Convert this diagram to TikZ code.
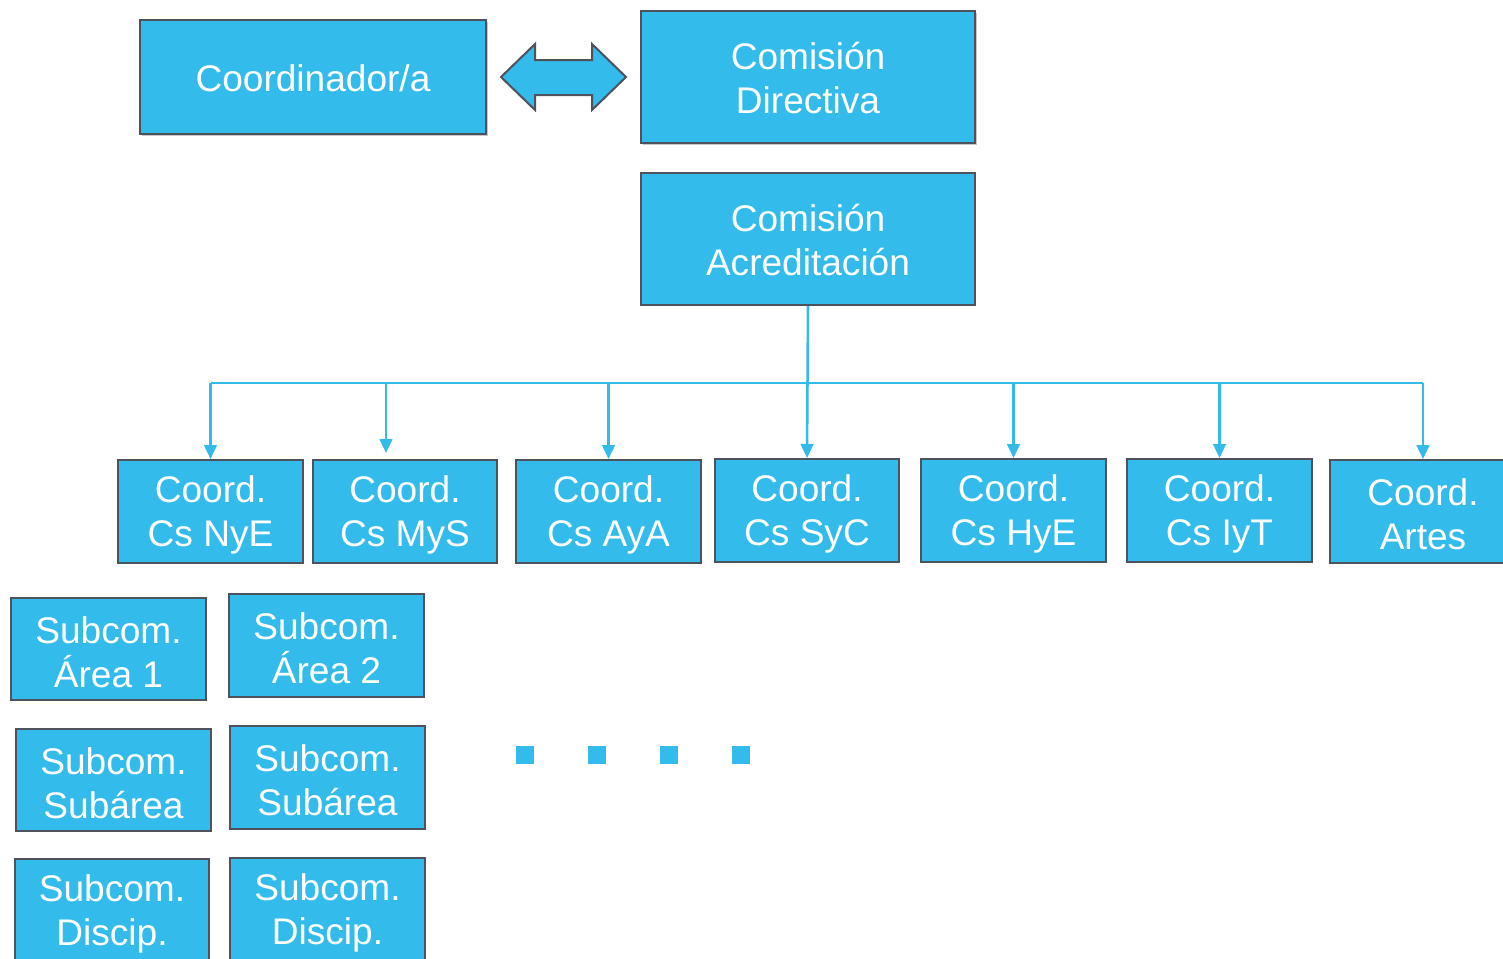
\documentclass[tikz,border=0pt]{standalone}
\usepackage{fontspec}
\setmainfont{Liberation Sans}
\usetikzlibrary{arrows.meta,shadows}
\definecolor{cyanbox}{HTML}{33BBEB}
\definecolor{edgegray}{HTML}{4D525C}
\tikzset{
  box/.style={draw=edgegray, line width=1.5pt, fill=cyanbox, inner sep=0pt},
  boxtext/.style={text=white, align=center, inner sep=0pt, font=\fontsize{27.8}{33}\selectfont},
  shadowed/.style={drop shadow={shadow xshift=1.5pt, shadow yshift=-1.5pt, opacity=0.22, fill=black}},
  line/.style={draw=cyanbox, line width=1.9pt},
  conn/.style={line, -{Triangle[width=9.5pt,length=10.5pt]}},
  dot/.style={fill=cyanbox, draw=none, minimum size=13.5pt, inner sep=0pt}
}
\def\tshift{-2.2pt}
\newcommand{\bx}[7][]{%
  \node[box,#1, minimum width={(#5-#3)*0.75pt}, minimum height={(#6-#4)*0.75pt}]
    (#2) at ({(#3+#5)/2},{(#4+#6)/2}) {};
  \node[boxtext, yshift=\tshift] (#2t) at (#2.center) {#7};}
\begin{document}
\begin{tikzpicture}[x=0.75pt,y=-0.75pt]
\useasboundingbox (0,0) rectangle (1503,958);
\clip (0,0) rectangle (1503,958);
% top row
\def\tshift{-0.6pt}
\bx[shadowed]{coord}{140}{20}{486}{134}{Coordinador/a}
\bx[shadowed]{dir}{641}{11}{975}{143}{Comisión\\Directiva}
\bx{acr}{641}{173}{975}{305}{Comisión\\Acreditación}
\def\tshift{-2.2pt}
% double arrow
\filldraw[fill=cyanbox, draw=edgegray, line width=1.5pt, line join=miter]
  (501,77) -- (535,44) -- (535,60) -- (592,60) -- (592,44) -- (626,77)
  -- (592,110) -- (592,95) -- (535,95) -- (535,110) -- cycle;
% coordination boxes
\bx{nye}{118}{460}{303}{563}{Coord.\\Cs NyE}
\bx{mys}{313}{460}{497}{563}{Coord.\\Cs MyS}
\bx{aya}{516}{460}{701}{563}{Coord.\\Cs AyA}
\bx{syc}{715}{459}{899}{562}{Coord.\\Cs SyC}
\bx{hye}{921}{459}{1106}{562}{Coord.\\Cs HyE}
\bx{iyt}{1127}{459}{1312}{562}{Coord.\\Cs IyT}
\bx{art}{1330}{460}{1516}{563}{Coord.\\Artes}
% subcommissions
\bx{a1}{11}{598}{206}{700}{Subcom.\\Área 1}
\bx{a2}{229}{594}{424}{697}{Subcom.\\Área 2}
\bx{s1}{16}{729}{211}{831}{Subcom.\\Subárea}
\bx{s2}{230}{726}{425}{829}{Subcom.\\Subárea}
\bx{d1}{15}{859}{209}{962}{Subcom.\\Discip.}
\bx{d2}{230}{858}{425}{961}{Subcom.\\Discip.}
% tree connectors
\coordinate (busL) at (210.5,383);
\coordinate (busR) at (1423,383);
\coordinate (mysA) at (386,383);
\coordinate (mysT) at (386,453);
\draw[line] (busL) -- (busR);
\draw[conn] (acr.south) -- (syc.north);
\draw[conn] (nye.north |- busL) -- (nye.north);
\draw[conn] (mysA) -- (mysT);
\draw[conn] (aya.north |- busL) -- (aya.north);
\draw[conn] (hye.north |- busL) -- (hye.north);
\draw[conn] (iyt.north |- busL) -- (iyt.north);
\draw[conn] (art.north |- busL) -- (art.north);
% ellipsis squares
\node[dot] (q1) at (525,755) {};
\node[dot] (q2) at (597,755) {};
\node[dot] (q3) at (669,755) {};
\node[dot] (q4) at (741,755) {};
\end{tikzpicture}
\end{document}
